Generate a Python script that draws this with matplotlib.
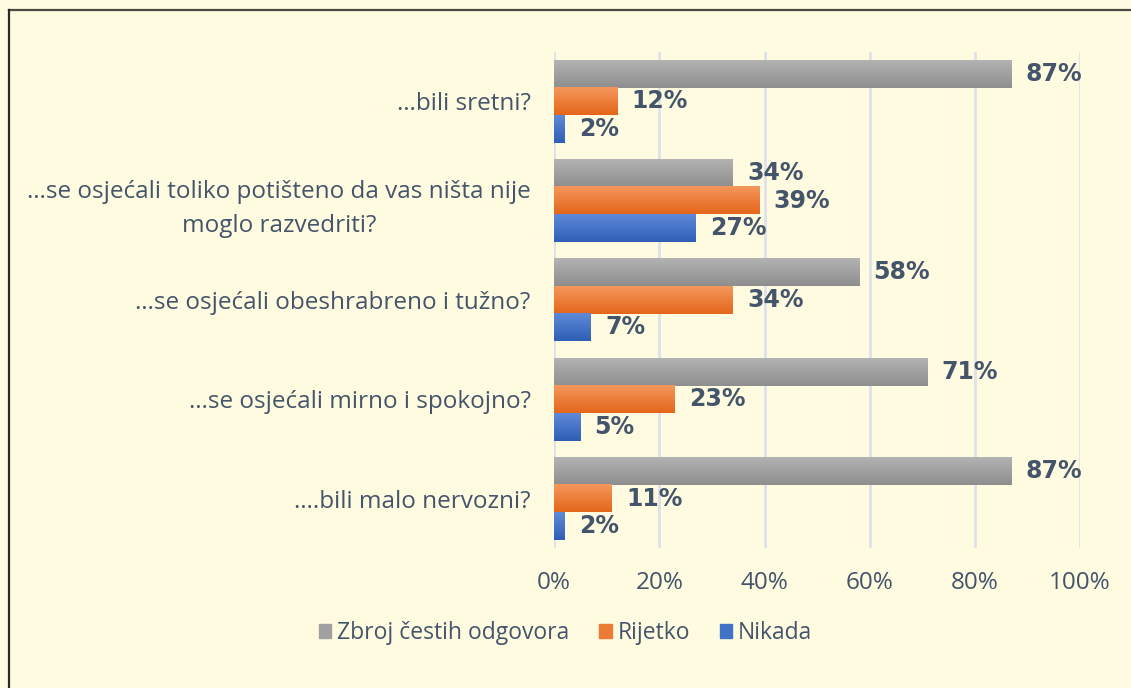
import numpy as np
import matplotlib
matplotlib.use('Agg')
import matplotlib.pyplot as plt
from matplotlib.colors import LinearSegmentedColormap
from matplotlib.lines import Line2D

categories = [
    "…bili sretni?",
    "…se osjećali toliko potišteno da vas ništa nije\nmoglo razvedriti?",
    "…se osjećali obeshrabreno i tužno?",
    "…se osjećali mirno i spokojno?",
    "….bili malo nervozni?",
]
series_names = ["Zbroj čestih odgovora", "Rijetko", "Nikada"]
zbroj = [87, 34, 58, 71, 87]
rijetko = [12, 39, 34, 23, 11]
nikada = [2, 27, 7, 5, 2]
ticks = [0, 20, 40, 60, 80, 100]

# top / bottom shade of each series (bars have a vertical gradient)
shades = [("#B3B3B3", "#8E8E8E"), ("#F5975C", "#E4661A"), ("#5E8AD8", "#2E5EB6")]
legend_colors = ["#A0A0A0", "#EE7B35", "#4272C6"]
text_col = "#44546A"
bg = "#FEFBE0"

plt.rcParams['font.family'] = ['Open Sans', 'DejaVu Sans']

fig = plt.figure(figsize=(11.31, 6.88), dpi=100, facecolor=bg)
ax = fig.add_axes([0.490, 0.203, 0.465, 0.722])
ax.set_facecolor(bg)

n = len(categories)
y = np.arange(n)
bh = 0.277
offsets = [-bh, 0, bh]
grad = np.linspace(0, 1, 64).reshape(-1, 1)

for k, vals in enumerate([zbroj, rijetko, nikada]):
    rects = ax.barh(y + offsets[k], vals, height=bh, color=legend_colors[k],
                    zorder=2, label=series_names[k])
    cmap = LinearSegmentedColormap.from_list("g%d" % k, list(shades[k]))
    for rect, v in zip(rects, vals):
        x0, y0 = rect.get_x(), rect.get_y()
        w, h = rect.get_width(), rect.get_height()
        # y axis is inverted, so y0 is the top edge on screen
        ax.imshow(grad, cmap=cmap, aspect='auto', zorder=3,
                  extent=(x0, x0 + w, y0 + h, y0), interpolation='bilinear')
        ax.text(v + 2.7, y0 + h / 2, "%d%%" % v, va='center', ha='left',
                fontsize=17, fontweight='bold', color=text_col, zorder=4,
                family='DejaVu Sans')

ax.set_xlim(0, 100)
ax.set_ylim(n - 0.5, -0.5)
ax.set_xticks(ticks)
ax.set_xticklabels(["%d%%" % t for t in ticks])
ax.set_yticks(y)
ax.set_yticklabels(categories, ha='right', multialignment='center',
                   linespacing=1.6)
ax.tick_params(axis='y', length=0, pad=17, labelsize=17.5, labelcolor=text_col)
ax.tick_params(axis='x', length=0, pad=16, labelsize=17.5, labelcolor=text_col)
ax.xaxis.grid(True, color="#DDE1EA", linewidth=2, zorder=0)
ax.set_axisbelow(True)
for s in ax.spines.values():
    s.set_visible(False)

handles = [plt.Rectangle((0, 0), 1, 1, color=c) for c in legend_colors]
fig.legend(handles, series_names, loc='center', bbox_to_anchor=(0.5, 0.080),
           ncol=3, frameon=False, fontsize=16.5, labelcolor=text_col,
           handlelength=0.55, handleheight=0.55, handletextpad=0.25,
           columnspacing=1.3)

# frame lines at top and left of the picture
fig.add_artist(Line2D([8.5 / 1131, 1], [1 - 9.5 / 688, 1 - 9.5 / 688],
                      transform=fig.transFigure, color="#4A4A42", linewidth=1.6))
fig.add_artist(Line2D([8.5 / 1131, 8.5 / 1131], [0, 1 - 9.5 / 688],
                      transform=fig.transFigure, color="#2A2A2A", linewidth=1.6))

fig.savefig("out.png", dpi=100, facecolor=bg)
